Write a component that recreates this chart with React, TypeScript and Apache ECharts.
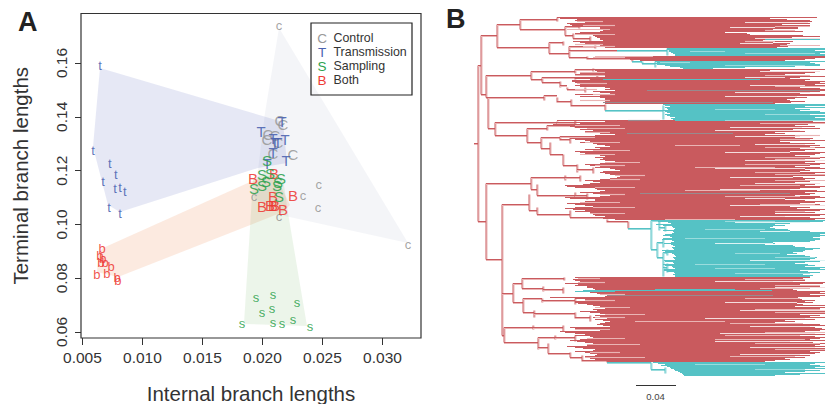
import React, { useEffect, useRef } from "react";
import * as echarts from "echarts";

const FONT = "'Liberation Sans', Arial, sans-serif";
const xTicks = [0.005, 0.01, 0.015, 0.02, 0.025, 0.03];
const yTicks = [0.06, 0.08, 0.1, 0.12, 0.14, 0.16];
const legendNames = ["Control", "Transmission", "Sampling", "Both"];
const legendLetters = ["C", "T", "S", "B"];

const controlLower = [[0.02138,0.1741],[0.0247,0.115],[0.02338,0.1109],[0.01929,0.1102],[0.02463,0.1061],[0.02138,0.1028],[0.03213,0.0927]];
const transLower = [[0.00646,0.1589],[0.00588,0.1273],[0.00729,0.1225],[0.00779,0.1184],[0.00671,0.1161],[0.00771,0.1132],[0.00813,0.1139],[0.00854,0.1124],[0.00721,0.1061],[0.00813,0.1039]];
const samplingLower = [[0.01946,0.073],[0.02088,0.0738],[0.02288,0.0708],[0.01996,0.0674],[0.02079,0.0686],[0.01829,0.063],[0.02088,0.0637],[0.02163,0.0633],[0.02254,0.0645],[0.02396,0.0619]];
const bothLower = [[0.00663,0.0912],[0.00646,0.0886],[0.00671,0.0875],[0.00688,0.086],[0.00654,0.0857],[0.00738,0.0842],[0.00621,0.0812],[0.00704,0.0819],[0.00788,0.0801],[0.00796,0.0793]];
const controlUpper = [[0.02146,0.1388],[0.02171,0.137],[0.02046,0.1336],[0.02104,0.1332],[0.02038,0.1314],[0.02129,0.1306],[0.02088,0.1265],[0.02254,0.1258]];
const transUpper = [[0.01988,0.1347],[0.02163,0.1381],[0.02088,0.1321],[0.02188,0.1314],[0.02104,0.1303],[0.02129,0.1306],[0.02088,0.1269],[0.02196,0.1236],[0.02038,0.1228]];
const samplingUpper = [[0.02038,0.1236],[0.01996,0.1187],[0.02063,0.1191],[0.02154,0.1172],[0.02129,0.1154],[0.0203,0.1158],[0.01996,0.1146],[0.01929,0.1135],[0.02138,0.1102],[0.02121,0.1146]];
const bothUpper = [[0.02096,0.1191],[0.01921,0.1169],[0.02254,0.1109],[0.02088,0.1102],[0.01996,0.1065],[0.02063,0.1072],[0.02104,0.1072],[0.02171,0.1057],[0.02088,0.1072]];

const controlHull = [[0.02138,0.173],[0.03213,0.0931],[0.02188,0.1031],[0.01929,0.1098],[0.01963,0.1202],[0.02021,0.1414]];
const transHull = [[0.00646,0.1581],[0.02171,0.1381],[0.02204,0.1228],[0.01963,0.121],[0.00813,0.1046],[0.00713,0.1072],[0.00588,0.1288]];
const bothHull = [[0.00671,0.0912],[0.01896,0.1158],[0.02104,0.1187],[0.02229,0.1072],[0.02171,0.1046],[0.00796,0.0804],[0.00621,0.0823],[0.00638,0.0897]];
const samplingHull = [[0.01846,0.063],[0.01921,0.1165],[0.02021,0.1195],[0.02171,0.1172],[0.02213,0.1042],[0.02371,0.0622]];

// Tree: branch lengths in thousandths, tips by rank. Each clade: first tip, tip start list, tip end list.
const r1Start = [82,85,102,100,108,110,92,95,97,102,125,125,123,128,125,105,100,115,118,120,122,125,125,128,98,105,110,115,125,130,130];
const r1End = [342,295,312,335,337,333,335,307,335,325,323,323,298,318,328,250,272,275,328,345,317,345,345,288,318,298,315,312,305,313,302];
const t1aStart = [192,192,194,194,196,198,200,200];
const t1aEnd = [350,350,340,350,350,345,350,350];
const r1bStart = [120,118,125,155,165];
const r1bEnd = [350,350,340,330,310];
const t1bStart = [180,182,178,182,190,195,205,208];
const t1bEnd = [350,335,340,345,345,320,270,238];
const r2Start = [100,120,122,120,105,100,100,130,100,100,115,97,97,100,110,105,100,105,130,135,130,140,118,125,135,100,125,105,125,130,130,125,130,130,130];
const r2End = [350,295,345,340,330,310,335,350,325,315,335,330,350,345,350,340,350,350,325,345,350,350,345,335,325,350,350,322,332,320,312,315,330,316,300];
const t2Start = [188,190,195,190,192,193,188,190,192,195,190,192,195,200,196,198,200];
const t2End = [350,350,330,350,320,335,325,345,350,350,335,350,350,340,350,350,330];
const r3Start = [82,130,98,105,78,72,95,100,112,105,118,110,125,125,140,120,85,88,95,100,110,115,105,118,122,130,135,120,125,110,118,100,105,110,115,125,130,120,128,125,130,140,135,125,110,115,125,120,135,140,145,128,125,130,135,140,145,142,135,125,110,118,125,115,108,90,92,100,120,122,130,125,105,118,128,135,125,90,95,120,120,110,105,92,100,110,118,100,90,98,110,100,115,125,118,120,130,115,128,140];
const r3End = [350,338,350,350,333,320,340,327,345,318,325,330,300,310,290,345,325,320,338,335,350,305,315,340,330,345,335,350,325,340,330,315,350,345,340,320,335,350,345,325,350,340,330,350,345,335,320,345,350,330,335,325,350,340,345,350,318,328,340,330,350,335,320,345,340,330,350,345,325,315,342,350,330,340,335,320,345,350,340,310,330,350,340,325,345,350,315,335,322,350,345,330,340,300,350,345,310,335,350,340];
const t3Start = [181,183,193,196,181,188,197,198,200,199,188,198,199,197,190,188,195,197,188,187,197,199,196,189,196,198,200,197,198,199,187,190,188,197,199,200,201,198,199,200,189,190,198,199,188,190,197,198,200,189,189,192,199,200,198,200,200];
const t3End = [350,348,335,315,300,310,298,295,300,313,315,335,350,350,345,350,345,338,345,345,340,335,298,300,290,318,320,330,345,338,330,328,318,322,312,330,335,342,340,335,350,345,330,320,333,340,330,350,345,350,325,333,345,320,328,338,335];
const r4Start = [100,103,98,100,105,103,90,103,100,112,112,118,120,125,108,115,122,125,145,130,75,100,110,128,100,100,103,112,118,125,120,130,118,122,105,115,125,130,120,125,118,132,120,128,135,130,125,122,128,135,95,100,115,125,85,90,100,110,100,115,118,112,105,95,102,110,118,125,112,92,100,108,120,118,100,110,115,122,120,110,110,115,120,108,132];
const r4End = [335,328,315,330,318,350,348,325,335,345,350,335,318,322,350,345,350,335,350,345,323,325,327,340,330,338,322,328,350,320,350,345,335,350,350,340,350,325,345,335,350,330,340,310,320,300,328,345,350,335,340,347,350,345,330,348,340,350,325,340,350,345,335,350,315,338,350,345,340,350,340,350,345,350,335,345,340,325,335,320,330,310,315,300,290];
const t4Start = [178,183,190,186,192,195,196,199,200,203,205,207,208,209];
const t4End = [350,340,335,345,350,340,350,322,345,330,310,350,325,300];

// Branches: parent x, tip rank of the stem, child x, child's top rank, child's bottom rank.
const redBranches = [[-1,126,3,48,204],[3,48,6,18,77],[6,18,22,7,30],[22,7,45,2,12],[45,2,82,0,4],[45,12,90,9,18],[90,9,104,6,11],[90,18,98,16,21],[104,6,118,5,8],[98,21,115,19,24],[22,30,74,25,36],[74,25,88,24,28],[74,36,94,29,40],[94,29,120,28,31],[94,40,112,39,42],[112,41,157,41,44],[94,33,142,33,33],[6,77,11,58,80],[11,80,13,80,111],[11,58,56,54,62],[56,54,100,52,56],[100,52,118,51,54],[56,62,67,60,65],[67,60,100,60,62],[100,60,122,58,62],[67,65,85,64,70],[85,68,92,70,72],[92,72,110,70,75],[13,80,69,78,83],[69,78,82,80,85],[82,84,96,82,89],[96,88,130,87,93],[13,111,20,105,118],[20,105,82,104,108],[82,105,100,103,107],[20,118,52,111,125],[52,111,72,108,113],[72,108,100,106,110],[52,125,66,120,131],[66,120,85,119,123],[85,122,95,120,126],[66,131,75,125,137],[75,137,88,137,148],[88,148,102,147,155],[102,152,118,150,156],[3,204,11,166,242],[11,166,56,160,172],[56,160,90,158,163],[90,160,105,158,164],[56,172,62,167,178],[62,178,100,175,181],[100,178,112,176,182],[11,242,27,187,318],[27,187,54,177,193],[54,193,62,190,197],[62,197,95,193,200],[95,200,132,202,205],[132,204,153,204,211],[27,276,38,266,285],[38,266,47,261,271],[47,261,89,260,263],[47,271,68,269,274],[68,272,88,270,276],[38,285,48,281,295],[48,281,67,281,285],[67,283,100,281,287],[48,295,59,293,300],[59,296,100,295,301],[100,300,115,298,304],[27,318,29,310,325],[29,310,58,308,312],[58,310,88,308,314],[29,325,63,320,332],[63,320,80,318,322],[80,320,100,318,324],[63,330,73,326,336],[73,336,95,335,340],[95,340,107,338,344],[107,343,132,343,345]];
const tealBranches = [[142,33,192,31,38],[157,44,167,44,46],[167,46,180,44,50],[130,93,188,88,102],[153,211,176,203,232],[176,203,184,203,213],[184,210,190,208,214],[176,232,182,225,240],[182,225,188,222,230],[182,240,188,235,259],[188,235,192,232,238],[188,250,192,246,255],[132,345,176,345,352],[176,352,190,350,356]];

const paleRows = [[4,102,128],[8,108,140],[12,92,135],[17,100,140],[27,100,128],[29,108,140],[40,118,150],[39,120,178],[55,105,130],[58,100,130],[66,102,132],[72,100,122],[77,118,140],[83,105,135],[9,300,335],[13,290,320],[24,270,300],[28,305,345],[108,100,145],[111,112,150],[115,110,135],[120,85,120],[125,110,145],[133,118,155],[137,105,140],[145,130,165],[148,120,150],[158,140,170],[162,135,165],[170,120,160],[177,125,150],[185,105,145],[190,118,160],[196,115,150],[261,103,125],[265,103,130],[277,125,150],[283,110,140],[290,120,155],[297,130,170],[300,120,150],[312,100,135],[321,112,150],[327,112,165],[335,115,145],[340,110,170],[118,320,345],[130,290,340],[142,300,330],[155,280,325],[163,300,350],[179,250,325],[194,300,330],[262,270,330],[268,300,345],[281,270,325],[292,280,345],[306,255,328],[318,250,325],[326,280,345],[332,300,350],[339,255,320],[128,200,265],[150,220,300],[173,210,285],[202,190,260],[304,160,250],[322,240,330],[58,290,335],[69,300,350],[106,285,350],[122,305,335],[140,290,345],[147,270,335],[157,300,350],[168,265,325],[187,285,340],[271,285,335],[295,300,350],[315,290,350]];
const whiteRows = [[5,270,335],[10,255,300],[21,280,345],[26,265,298],[54,285,345],[60,270,310],[68,275,330],[75,260,350],[79,250,325],[110,255,345],[113,240,330],[119,260,325],[127,280,335],[135,250,315],[143,270,350],[151,240,330],[160,255,318],[166,280,345],[172,245,325],[181,270,310],[188,255,350],[199,265,310],[264,240,318],[270,300,350],[285,250,322],[293,265,350],[301,230,330],[309,275,335],[316,245,340],[324,240,315],[330,275,340],[337,265,325],[205,260,335],[214,285,315],[226,240,298],[243,275,350]];
const tealPaleRows = [[34,215,250],[36,270,340],[45,185,215],[48,250,330],[92,240,300],[97,290,335],[103,250,350],[204,250,300],[212,230,290],[221,210,290],[236,260,305],[240,300,340],[247,220,290],[251,240,300],[256,260,335],[347,220,290],[352,280,330]];
const tealInRed = [[62,128,285],[22,290,345],[273,108,297],[274,100,140],[272,180,260]];
const greyInRed = [[73,172,345],[85,128,298],[103,153,185],[116,152,258],[176,165,315],[278,132,298]];
const scaleBar = [161, 201, 368];

const rows = (first: number, starts: number[], ends: number[]) => starts.map((s, i) => [first + i, s, ends[i]]);
const redRows = [...rows(0, r1Start, r1End), ...rows(39, r1bStart, r1bEnd), ...rows(52, r2Start, r2End), ...rows(103, r3Start, r3End), ...rows(260, r4Start, r4End)];
const tealRows = [...rows(31, t1aStart, t1aEnd), ...rows(44, t1bStart, t1bEnd), ...rows(87, t2Start, t2End), ...rows(203, t3Start, t3End), ...rows(345, t4Start, t4End)];

const RED = "#c95a5e", PALE = "#eab4b4", TEAL = "#55c2c5", PALETEAL = "#9adcdd", GREY = "#988a8e";

function rowSeries(data: number[][], color: string, z: number, width = 1.15) {
  return {
    type: "custom", xAxisIndex: 1, yAxisIndex: 1, silent: true, z, data,
    encode: { x: [1, 2], y: 0 },
    renderItem: (_: any, api: any) => {
      const a = api.coord([api.value(1), api.value(0)]);
      const b = api.coord([api.value(2), api.value(0)]);
      return { type: "line", shape: { x1: a[0], y1: a[1], x2: b[0], y2: b[1] }, style: { stroke: color, lineWidth: width, fill: null } };
    },
  };
}
function branchSeries(data: number[][], color: string, z: number) {
  return {
    type: "custom", xAxisIndex: 1, yAxisIndex: 1, silent: true, z, data,
    encode: { x: [0, 2], y: [3, 4] },
    renderItem: (_: any, api: any) => {
      const [x0, t, x1, top, bot] = [0, 1, 2, 3, 4].map((i) => api.value(i));
      const a = api.coord([x0, t]), b = api.coord([x1, t]), c = api.coord([x1, top]), d = api.coord([x1, bot]);
      const mk = (p: number[], q: number[], col: string, w: number) => ({ type: "line", shape: { x1: p[0], y1: p[1], x2: q[0], y2: q[1] }, style: { stroke: col, lineWidth: w, fill: null } });
      const pale = color === RED ? PALE : PALETEAL;
      return { type: "group", children: [
        mk([a[0], a[1] + 1], [b[0], b[1] + 1], pale, 1), mk([c[0] + 1, c[1]], [d[0] + 1, d[1]], pale, 1),
        mk(a, b, color, 1), mk(c, d, color, 1),
      ] };
    },
  };
}
function hullSeries(points: number[][], fill: string, z: number) {
  return {
    type: "custom", xAxisIndex: 0, yAxisIndex: 0, silent: true, z, data: points,
    encode: { x: 0, y: 1 },
    renderItem: (p: any, api: any) => {
      if (p.dataIndex !== 0) return { type: "group", children: [] };
      return { type: "polygon", shape: { points: points.map((q) => api.coord(q)) }, style: { fill } };
    },
  };
}
function letterSeries(name: string, data: number[][], letter: string, color: string, size: number) {
  return {
    type: "scatter", name, xAxisIndex: 0, yAxisIndex: 0, data, symbolSize: 1, z: 5,
    itemStyle: { color: "rgba(0,0,0,0)" },
    label: { show: true, position: "inside", formatter: letter, color, fontSize: size, fontFamily: FONT, opacity: 0.88 },
  };
}

export default function App() {
  const ref = useRef<HTMLDivElement>(null);
  useEffect(() => {
    document.body.style.margin = "0";
    const chart = echarts.init(ref.current!, null, { renderer: "svg" });
    const legendColors = ["#999999", "#4a62b0", "#2da24e", "#ee3a35"];
    const legendY = [38, 52, 66, 80];
    chart.setOption({
      animation: false,
      backgroundColor: "#ffffff",
      grid: [
        { left: 81, top: 13.5, width: 340, height: 324.5, outerBoundsMode: "none", show: false },
        { left: 470, top: 17, width: 355, height: 380, outerBoundsMode: "none", show: false },
      ],
      xAxis: [
        {
          type: "value", gridIndex: 0, min: 0.00488, max: 0.03321, splitLine: { show: false },
          name: "Internal branch lengths", nameLocation: "middle", nameGap: 45,
          nameTextStyle: { fontSize: 20.5, fontFamily: FONT, color: "#333333" },
          axisLine: { show: false },
          axisTick: { show: true, length: 7, customValues: xTicks, lineStyle: { color: "#333333", width: 1 } },
          axisLabel: { customValues: xTicks, margin: 11, fontSize: 15.5, fontFamily: FONT, color: "#333333", formatter: (v: number) => v.toFixed(3) },
        },
        { type: "value", gridIndex: 1, min: -5, max: 350, show: false },
      ],
      yAxis: [
        {
          type: "value", gridIndex: 0, min: 0.05777, max: 0.1784, splitLine: { show: false },
          name: "Terminal branch lengths", nameLocation: "middle", nameGap: 50, nameRotate: 90,
          nameTextStyle: { fontSize: 20.5, fontFamily: FONT, color: "#333333" },
          axisLine: { show: false },
          axisTick: { show: true, length: 6, customValues: yTicks, lineStyle: { color: "#333333", width: 1 } },
          axisLabel: { customValues: yTicks, rotate: 90, margin: 12, fontSize: 15.5, fontFamily: FONT, color: "#333333", formatter: (v: number) => v.toFixed(2) },
        },
        { type: "value", gridIndex: 1, min: -0.5, max: 379.5, inverse: true, show: false },
      ],
      graphic: [
        { type: "text", left: 18, top: 8, style: { text: "A", font: `bold 27px ${FONT}`, fill: "#222222" } },
        { type: "text", left: 446, top: 5, style: { text: "B", font: `bold 27px ${FONT}`, fill: "#222222" } },
        { type: "rect", x: 81, y: 13.5, z: 20, shape: { width: 340, height: 324.5 }, style: { fill: "rgba(255,255,255,0)", stroke: "#333333", lineWidth: 1.2 } },
        { type: "rect", x: 311, y: 23, z: 20, shape: { width: 101, height: 72 }, style: { fill: "rgba(255,255,255,0)", stroke: "#222222", lineWidth: 1.2 } },
        ...legendNames.flatMap((n, i) => [
          { type: "text", x: 322, y: legendY[i], z: 20, style: { text: legendLetters[i], font: `13.5px ${FONT}`, fill: legendColors[i], align: "center", verticalAlign: "middle" } },
          { type: "text", x: 333.5, y: legendY[i], z: 20, style: { text: n, font: `12.4px ${FONT}`, fill: "#333333", align: "left", verticalAlign: "middle" } },
        ]),
        { type: "text", x: 655.5, y: 396.5, style: { text: "0.04", font: `9.5px ${FONT}`, fill: "#444444", align: "center", verticalAlign: "middle" } },
      ],
      series: [
        hullSeries(controlHull, "rgba(125,135,170,0.085)", 1),
        hullSeries(transHull, "rgba(90,100,185,0.15)", 1),
        hullSeries(bothHull, "rgba(240,130,70,0.17)", 1),
        hullSeries(samplingHull, "rgba(110,180,90,0.13)", 1),
        letterSeries("control-lower", controlLower, "c", "#999999", 13),
        letterSeries("control-upper", controlUpper, "C", "#999999", 15),
        letterSeries("trans-lower", transLower, "t", "#4a62b0", 13),
        letterSeries("trans-upper", transUpper, "T", "#4a62b0", 15),
        letterSeries("both-lower", bothLower, "b", "#ee3a35", 13),
        letterSeries("both-upper", bothUpper, "B", "#ee3a35", 15),
        letterSeries("sampling-lower", samplingLower, "s", "#2da24e", 13),
        letterSeries("sampling-upper", samplingUpper, "S", "#2da24e", 15),
        branchSeries(redBranches, RED, 2),
        branchSeries(tealBranches, TEAL, 2),
        rowSeries(redRows, RED, 3),
        rowSeries(tealRows, TEAL, 3),
        rowSeries(whiteRows, "#ffffff", 4, 0.8),
        rowSeries(paleRows, PALE, 4),
        rowSeries(tealPaleRows, PALETEAL, 4),
        rowSeries(tealInRed, TEAL, 4),
        rowSeries(greyInRed, GREY, 4),
        rowSeries([[scaleBar[2], scaleBar[0], scaleBar[1]]], "#333333", 4, 1),
      ],
    });
    return () => chart.dispose();
  }, []);
  return <div ref={ref} style={{ width: 825, height: 404 }} />;
}
